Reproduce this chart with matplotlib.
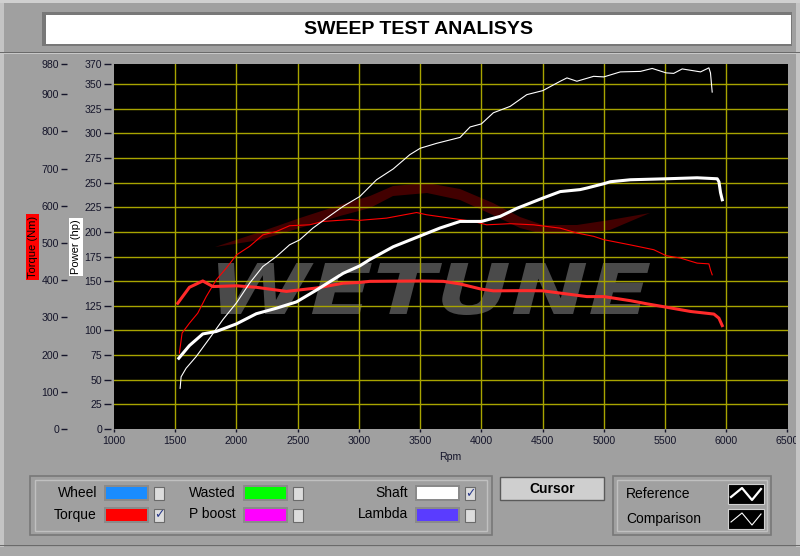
import numpy as np
import matplotlib.pyplot as plt
from matplotlib.patches import Rectangle, PathPatch
from matplotlib.textpath import TextPath
from matplotlib.font_manager import FontProperties
from matplotlib.transforms import Affine2D

plt.rcParams['font.family'] = ['Liberation Sans', 'DejaVu Sans']

# --- data ---
shaft_ref_rpm = [1529, 1616, 1725, 1835, 2000, 2162, 2326, 2490, 2653, 2871, 3007, 3089,
                 3280, 3501, 3662, 3826, 4000, 4153, 4290, 4502, 4644, 4806, 4862, 5000,
                 5053, 5217, 5509, 5762, 5926, 5940, 5953, 5967]
shaft_ref_hp = [71.8, 84.7, 96.5, 99, 106.7, 117, 122.6, 129, 141, 158, 165.6, 172,
                185, 196, 204, 210.7, 210.7, 215.8, 224, 234.4, 241, 243, 244.6, 249,
                251, 253, 254, 255, 254, 251, 240, 232.7]

torque_ref_rpm = [1520, 1616, 1725, 1807, 2000, 2162, 2408, 2653, 2871, 3007, 3089, 3501,
                  3689, 3826, 4000, 4098, 4371, 4502, 4699, 4862, 5000, 5217, 5353, 5509,
                  5708, 5899, 5940, 5967]
torque_ref_nm = [338, 381, 398, 383, 385, 381, 370, 379, 392, 394, 397, 398,
                 397, 390, 376, 371.5, 372, 371.5, 363, 356, 356, 345, 336.5, 327.6,
                 316, 309, 298, 278]

torque_cmp_rpm = [1534, 1556, 1616, 1684, 1753, 1835, 1917, 2000, 2107, 2216, 2326, 2434,
                  2598, 2707, 2925, 3007, 3226, 3471, 3553, 3744, 3935, 4044, 4235, 4426,
                  4644, 4780, 4917, 5000, 5217, 5408, 5509, 5626, 5762, 5858, 5871, 5885]
torque_cmp_nm = [204, 258, 284.5, 311.5, 356, 401, 432.6, 468, 491, 522, 531, 546.5,
                 549, 558, 563, 561, 567, 582, 576, 567, 558, 549, 552, 549,
                 540, 527, 518, 509, 495, 482, 466, 459.5, 446, 444, 428, 414.6]

shaft_cmp_rpm = [1540, 1548, 1589, 1671, 1780, 1889, 2000, 2107, 2216, 2326, 2434, 2516,
                 2625, 2735, 2871, 3007, 3144, 3280, 3416, 3501, 3635, 3826, 3908, 4000,
                 4098, 4235, 4371, 4502, 4644, 4699, 4780, 4917, 5000, 5135, 5299, 5395,
                 5509, 5571, 5640, 5790, 5858, 5871, 5885]
shaft_cmp_hp = [41.3, 53, 61.7, 73.5, 92, 111, 128, 148, 165, 175, 187, 192,
                204, 214, 226, 236, 253, 264, 278.5, 285, 290, 296, 306.6, 309.7,
                321, 327.5, 339.4, 343.5, 353, 356.4, 353, 358, 357.4, 362.5, 363, 366,
                361.5, 361, 365.5, 362.5, 366.6, 361.5, 342]

rpm_ticks = list(range(1000, 6501, 500))
power_ticks = list(range(0, 351, 25)) + [370]
torque_ticks = list(range(0, 901, 100)) + [980]

legend_labels = ["Wheel", "Torque", "Wasted", "P boost", "Shaft", "Lambda"]
legend_colors = ["#1a8cff", "#ff0000", "#00ff00", "#ff00ff", "#ffffff", "#5a3cff"]
legend_checked = [False, True, False, False, True, False]

BG = "#a0a0a0"
W, H = 800, 556
PT = 0.72  # points per pixel at dpi 100

fig = plt.figure(figsize=(8, 5.56), dpi=100, facecolor=BG)


def box(x, y, w, h, **kw):
    # rectangle in pixel units, origin top-left
    r = Rectangle((x / W, 1 - (y + h) / H), w / W, h / H, transform=fig.transFigure, **kw)
    fig.add_artist(r)
    return r


def label(x, y, s, **kw):
    fig.text(x / W, 1 - y / H, s, **kw)


# frame decoration
box(0, 0, 4, H, fc="#c4c4c4", ec="none")
box(796, 0, 4, H, fc="#c4c4c4", ec="none")
box(0, 0, W, 3, fc="#d0d0d0", ec="none")
box(0, 52, W, 1.2, fc="#6a6a6a", ec="none")
box(0, 53.5, W, 1, fc="#c8c8c8", ec="none")
box(0, 545, W, 1.2, fc="#6a6a6a", ec="none")
box(0, 546.5, W, 10, fc="#a8a8a8", ec="none")

# title bar
box(42, 12, 750, 34, fc="#787878", ec="none")
box(46, 15, 745, 29, fc="white", ec="none")
label(418, 29.5, "SWEEP TEST ANALISYS", ha="center", va="center",
      fontsize=14, fontweight="bold", color="black")

# main plot
ax = fig.add_axes([114 / W, 1 - 429 / H, 673.5 / W, 364.5 / H])
ax.set_facecolor("black")
ax.set_xlim(1000, 6500)
ax.set_ylim(0, 370)
ax.set_axisbelow(True)

ax.set_xticks(rpm_ticks)
ax.set_yticks(power_ticks)
for v in rpm_ticks[1:-1]:
    ax.axvline(v, color="#a8a400", lw=1, zorder=0.5)
for v in range(25, 351, 25):
    ax.axhline(v, color="#a8a400", lw=1, zorder=0.5)

for s in ax.spines.values():
    s.set_visible(False)
ax.spines["left"].set_position(("outward", 3 * PT))
ax.tick_params(axis="y", length=7 * PT, width=1, pad=2 * PT,
               labelsize=7.6, colors="#15152a")
ax.tick_params(axis="x", length=3 * PT, width=1, pad=3, labelsize=7.6, colors="#15152a")
ax.set_xlabel("Rpm", fontsize=7.6, color="#15152a", labelpad=4)

ax2 = ax.twinx()
ax2.set_ylim(0, 980)
ax2.set_yticks(torque_ticks)
ax2.yaxis.tick_left()
for s in ax2.spines.values():
    s.set_visible(False)
ax2.spines["left"].set_position(("outward", 47 * PT))
ax2.tick_params(axis="y", length=6 * PT, width=1, pad=2 * PT, labelsize=7.6,
                colors="#15152a")
ax2.patch.set_visible(False)


# watermark: swoosh + WETUNE
def fx(x):
    return (np.asarray(x) - 114) / 673.5


def fy(y):
    return (429 - np.asarray(y)) / 364.5


sw_x = [215, 260, 300, 340, 370, 393, 427, 460, 493, 520, 543, 577, 610, 650]
sw_top = [247, 232, 218, 205, 196, 186, 183, 189, 203, 217, 225, 225, 220, 213]
sw_bot = [247, 240, 228, 216, 208, 196, 193, 200, 215, 228, 234, 234, 230, 213]
ax.fill(np.r_[fx(sw_x), fx(sw_x[::-1])], np.r_[fy(sw_top), fy(sw_bot[::-1])],
        transform=ax.transAxes, color="#420000", lw=0, zorder=0.3)

tp = TextPath((0, 0), "WETUNE", size=1,
              prop=FontProperties(family="DejaVu Sans", weight="bold", style="italic"))
bb = tp.get_extents()
x0, x1 = fx(218), fx(650)
y0, y1 = fy(315), fy(263)
tr = (Affine2D().translate(-bb.x0, -bb.y0).scale((x1 - x0) / bb.width, (y1 - y0) / bb.height)
      .translate(x0, y0) + ax.transAxes)
ax.add_patch(PathPatch(tp, transform=tr, fc="#4a4a4a", ec="none", zorder=0.2))

# curves: torque on the Nm scale, power on the hp scale
ax2.plot(torque_cmp_rpm, torque_cmp_nm, color="#ff0000", lw=0.8, zorder=2)
ax2.plot(torque_ref_rpm, torque_ref_nm, color="#ff2a2a", lw=2.2, zorder=2)
ax2.plot(shaft_cmp_rpm, np.array(shaft_cmp_hp) * 980 / 370, color="white", lw=0.8, zorder=3)
ax2.plot(shaft_ref_rpm, np.array(shaft_ref_hp) * 980 / 370, color="white", lw=2.2, zorder=3)

# axis name boxes
label(32.5, 247, "Torque (Nm)", rotation=90, ha="center", va="center", fontsize=8,
      color="black", bbox=dict(fc="#ff0000", ec="none", pad=1.2))
label(76, 247, "Power (hp)", rotation=90, ha="center", va="center", fontsize=8,
      color="black", bbox=dict(fc="white", ec="none", pad=1.5))

# bottom legend panel
box(30, 476, 462, 59, fc="none", ec="#787878", lw=1.2)
box(35, 480, 452, 51, fc=BG, ec="#c0c0c0", lw=1)

col_x = [97, 236, 408]
row_y = [493, 514.5]
for i, (name, c, chk) in enumerate(zip(legend_labels, legend_colors, legend_checked)):
    cx = col_x[i // 2]
    cy = row_y[i % 2]
    label(cx, cy, name, ha="right", va="center", fontsize=10, color="black")
    box(cx + 7, cy - 8, 45, 16, fc="#8a8a8a", ec="none")
    box(cx + 9, cy - 6, 41, 12, fc=c, ec="none")
    box(cx + 57, cy - 6, 10, 13, fc="#dcdcdc", ec="#6a6a6a", lw=0.8)
    if chk:
        label(cx + 62, cy + 0.5, "\u2713", ha="center", va="center", fontsize=9,
              color="#2a3a8a", family=["DejaVu Sans"])

# cursor button
box(500, 477, 104, 23, fc="#cfcfcf", ec="#5a5a5a", lw=1)
label(552, 489, "Cursor", ha="center", va="center", fontsize=10, fontweight="bold", color="black")

# reference / comparison panel
box(613, 476, 158, 59, fc="none", ec="#787878", lw=1.2)
box(617, 480, 150, 51, fc=BG, ec="#c0c0c0", lw=1)
label(626, 494, "Reference", ha="left", va="center", fontsize=10, color="black")
label(626, 519, "Comparison", ha="left", va="center", fontsize=10, color="black")
for iy, lw in [(484, 1.6), (509, 0.8)]:
    box(728, iy, 36, 20, fc="black", ec="#d0d0d0", lw=0.8)
    zx = np.array([731, 742, 752, 761])
    zy = np.array([iy + 13, iy + 4, iy + 16, iy + 5])
    fig.add_artist(plt.Line2D(zx / W, 1 - zy / H, transform=fig.transFigure,
                              color="white", lw=lw))

fig.savefig("out.png", dpi=100, facecolor=fig.get_facecolor())
